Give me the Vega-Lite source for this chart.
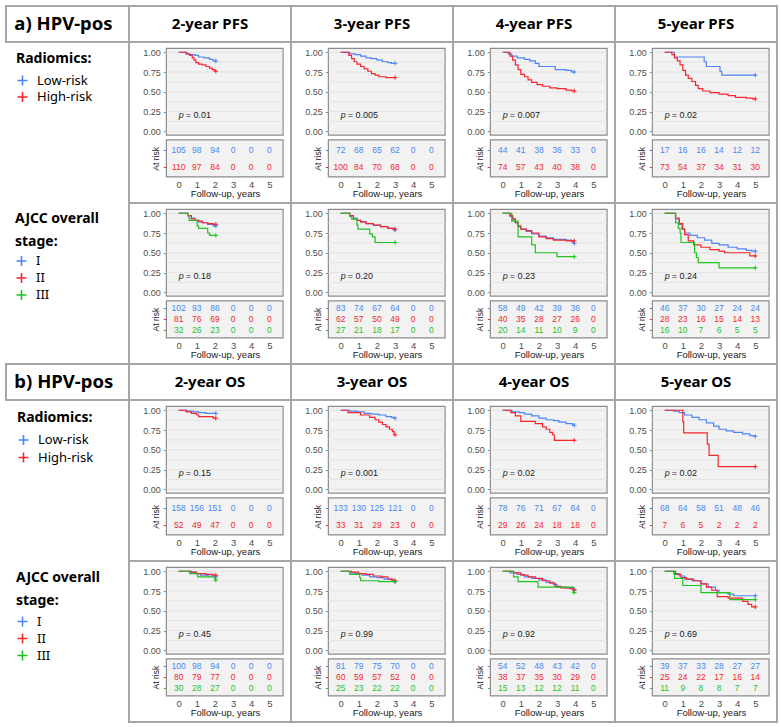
{
"$schema":"https://vega.github.io/schema/vega-lite/v6.json",
"padding":{"left":5,"top":5,"right":5,"bottom":5},
"background":"white",
"columns":5,
"spacing":0,
"bounds":"flush",
"resolve":{"scale":{"color":"independent"},"legend":{"color":"independent"}},
"datasets":{
"grid":[{"v":0},{"v":0.125},{"v":0.25},{"v":0.375},{"v":0.5},{"v":0.625},{"v":0.75},{"v":0.875},{"v":1}],
"pv":[{"p":"A1","v":"0.01"},{"p":"A2","v":"0.005"},{"p":"A3","v":"0.007"},{"p":"A4","v":"0.02"},
{"p":"B1","v":"0.18"},{"p":"B2","v":"0.20"},{"p":"B3","v":"0.23"},{"p":"B4","v":"0.24"},
{"p":"C1","v":"0.15"},{"p":"C2","v":"0.001"},{"p":"C3","v":"0.02"},{"p":"C4","v":"0.02"},
{"p":"D1","v":"0.45"},{"p":"D2","v":"0.99"},{"p":"D3","v":"0.92"},{"p":"D4","v":"0.69"}],
"curves":[
{"p":"A1","g":"Low-risk","t":[0,0.4,0.6,0.9,1.1,1.4,1.7,1.9,2.05],"s":[1,0.98,0.97,0.96,0.94,0.93,0.91,0.89,0.89]},
{"p":"A1","g":"High-risk","t":[0,0.45,0.6,0.75,0.85,0.95,1.1,1.3,1.5,1.7,1.85,1.98,2.05],"s":[1,0.98,0.96,0.93,0.9,0.87,0.85,0.84,0.82,0.8,0.78,0.76,0.76]},
{"p":"A2","g":"Low-risk","t":[0,0.5,0.8,1.1,1.4,1.7,2,2.3,2.6,2.8,3],"s":[1,0.98,0.97,0.95,0.93,0.92,0.9,0.88,0.87,0.86,0.86]},
{"p":"A2","g":"High-risk","t":[0,0.45,0.6,0.75,0.9,1.1,1.3,1.5,1.7,1.9,2.1,2.5,3],"s":[1,0.96,0.92,0.88,0.85,0.82,0.79,0.76,0.73,0.71,0.69,0.68,0.68]},
{"p":"A3","g":"Low-risk","t":[0,0.3,0.5,0.8,1.2,1.5,1.8,2,2.9,3.5,3.8,3.95],"s":[1,0.98,0.95,0.93,0.91,0.89,0.86,0.82,0.78,0.77,0.75,0.75]},
{"p":"A3","g":"High-risk","t":[0,0.4,0.55,0.7,0.85,1,1.2,1.4,1.6,1.9,2.2,2.6,3,3.5,3.8,3.95],"s":[1,0.95,0.9,0.84,0.78,0.72,0.69,0.65,0.62,0.59,0.57,0.55,0.54,0.52,0.51,0.51]},
{"p":"A4","g":"Low-risk","t":[0,0.53,2.18,2.3,3.05,3.15,5],"s":[1,0.94,0.88,0.82,0.76,0.71,0.71]},
{"p":"A4","g":"High-risk","t":[0,0.4,0.55,0.7,0.85,1,1.15,1.3,1.5,1.7,1.85,2.1,2.5,3,3.5,3.9,4.5,4.85,5],"s":[1,0.97,0.93,0.89,0.84,0.77,0.71,0.67,0.63,0.58,0.54,0.51,0.49,0.47,0.45,0.43,0.42,0.41,0.41]},
{"p":"B1","g":"I","t":[0,0.5,0.7,0.9,1.1,1.3,1.6,1.9,2.05],"s":[1,0.97,0.94,0.91,0.89,0.88,0.86,0.84,0.84]},
{"p":"B1","g":"II","t":[0,0.5,0.7,0.9,1.1,1.3,1.6,1.9,2.05],"s":[1,0.97,0.93,0.91,0.9,0.88,0.87,0.86,0.86]},
{"p":"B1","g":"III","t":[0,0.5,0.58,1.02,1.1,1.6,1.7,2.05],"s":[1,0.97,0.91,0.84,0.81,0.75,0.72,0.72]},
{"p":"B2","g":"I","t":[0,0.5,0.7,0.9,1.1,1.4,1.8,2.2,2.6,2.9,3],"s":[1,0.97,0.94,0.91,0.89,0.87,0.85,0.83,0.81,0.79,0.79]},
{"p":"B2","g":"II","t":[0,0.5,0.7,0.9,1.1,1.4,1.8,2.2,2.6,2.9,3],"s":[1,0.97,0.93,0.91,0.89,0.87,0.85,0.83,0.81,0.8,0.8]},
{"p":"B2","g":"III","t":[0,0.5,0.6,0.9,0.95,1.6,1.75,1.9,3],"s":[1,0.96,0.93,0.85,0.8,0.74,0.7,0.63,0.63]},
{"p":"B3","g":"I","t":[0,0.4,0.55,0.7,0.85,1,1.3,1.6,2,2.4,2.8,3.5,3.8,3.9,3.95],"s":[1,0.96,0.92,0.88,0.83,0.8,0.77,0.74,0.71,0.69,0.67,0.66,0.64,0.62,0.62]},
{"p":"B3","g":"II","t":[0,0.4,0.55,0.7,0.85,1,1.3,1.6,2,2.4,2.8,3.5,3.95],"s":[1,0.97,0.93,0.88,0.84,0.8,0.78,0.75,0.7,0.68,0.66,0.65,0.65]},
{"p":"B3","g":"III","t":[0,0.5,0.85,1.6,1.8,3,3.95],"s":[1,0.9,0.7,0.6,0.5,0.45,0.45]},
{"p":"B4","g":"I","t":[0,0.6,0.8,0.95,1.1,1.4,1.8,2.2,2.6,3,3.5,4,4.5,4.8,5],"s":[1,0.93,0.86,0.8,0.75,0.72,0.69,0.66,0.62,0.6,0.57,0.55,0.53,0.52,0.52]},
{"p":"B4","g":"II","t":[0,0.6,0.8,1,1.1,1.3,1.6,2,2.5,3,3.3,4.7,5],"s":[1,0.94,0.87,0.8,0.73,0.65,0.6,0.57,0.54,0.52,0.5,0.46,0.46]},
{"p":"B4","g":"III","t":[0,0.6,0.75,0.85,0.9,1.65,1.75,1.85,3,5],"s":[1,0.88,0.81,0.75,0.63,0.5,0.44,0.375,0.31,0.31]},
{"p":"C1","g":"Low-risk","t":[0,0.5,0.8,1.1,1.5,2.05],"s":[1,0.99,0.98,0.97,0.96,0.96]},
{"p":"C1","g":"High-risk","t":[0,0.4,0.7,1,1.1,1.9,2.05],"s":[1,0.98,0.96,0.94,0.92,0.9,0.9]},
{"p":"C2","g":"Low-risk","t":[0,0.5,0.9,1.3,1.7,2.1,2.5,2.8,2.95,3],"s":[1,0.99,0.98,0.96,0.95,0.94,0.92,0.91,0.9,0.9]},
{"p":"C2","g":"High-risk","t":[0,0.4,1.1,1.6,1.9,2.1,2.3,2.5,2.7,2.85,2.95,3],"s":[1,0.97,0.94,0.91,0.88,0.85,0.82,0.79,0.76,0.73,0.69,0.69]},
{"p":"C3","g":"Low-risk","t":[0,0.5,0.9,1.2,1.6,2,2.4,2.8,3.1,3.5,3.85,3.95],"s":[1,0.98,0.97,0.95,0.93,0.9,0.88,0.87,0.85,0.83,0.81,0.81]},
{"p":"C3","g":"High-risk","t":[0,0.45,0.7,1,1.8,2.2,2.4,2.6,2.75,2.85,3.95],"s":[1,0.97,0.93,0.86,0.83,0.79,0.76,0.72,0.69,0.62,0.62]},
{"p":"C4","g":"Low-risk","t":[0,0.5,0.8,1.1,1.5,1.9,2.3,2.7,3,3.4,3.8,4.3,4.7,4.9,5],"s":[1,0.99,0.97,0.94,0.91,0.88,0.84,0.8,0.76,0.74,0.72,0.7,0.68,0.67,0.67]},
{"p":"C4","g":"High-risk","t":[0,1,1.05,2.35,2.45,2.95,5],"s":[1,0.857,0.714,0.571,0.428,0.286,0.286]},
{"p":"D1","g":"I","t":[0,0.6,0.9,1.2,1.6,1.95,2.05],"s":[1,0.99,0.97,0.95,0.94,0.93,0.93]},
{"p":"D1","g":"II","t":[0,0.7,1,1.5,1.9,2.05],"s":[1,0.99,0.97,0.96,0.95,0.95]},
{"p":"D1","g":"III","t":[0,0.6,1.05,2,2.05],"s":[1,0.97,0.93,0.89,0.89]},
{"p":"D2","g":"I","t":[0,0.5,0.8,1.2,1.6,2,2.4,2.8,2.95,3],"s":[1,0.98,0.97,0.95,0.93,0.92,0.9,0.88,0.87,0.87]},
{"p":"D2","g":"II","t":[0,0.6,1,1.4,1.8,2.2,2.6,2.9,3],"s":[1,0.99,0.97,0.96,0.94,0.93,0.9,0.88,0.88]},
{"p":"D2","g":"III","t":[0,0.5,1.05,1.1,2.1,3],"s":[1,0.96,0.92,0.88,0.87,0.87]},
{"p":"D3","g":"I","t":[0,0.4,0.8,1.2,1.6,2,2.4,2.8,3,3.5,3.9,3.95],"s":[1,0.98,0.96,0.93,0.91,0.89,0.86,0.83,0.8,0.79,0.77,0.77]},
{"p":"D3","g":"II","t":[0,0.6,1,1.4,1.8,2.2,2.6,2.9,3.2,3.7,3.9,3.95],"s":[1,0.98,0.95,0.93,0.91,0.88,0.85,0.81,0.79,0.78,0.76,0.76]},
{"p":"D3","g":"III","t":[0,0.6,0.85,1.95,3.9,3.95],"s":[1,0.93,0.87,0.8,0.73,0.73]},
{"p":"D4","g":"I","t":[0,0.5,0.8,1.1,1.5,2,2.4,2.8,3,3.5,3.8,5],"s":[1,0.97,0.94,0.9,0.88,0.84,0.8,0.76,0.73,0.71,0.69,0.69]},
{"p":"D4","g":"II","t":[0,0.6,0.9,1.2,1.6,2,2.3,2.6,2.9,3.5,4.3,4.6,4.8,5],"s":[1,0.96,0.92,0.9,0.88,0.84,0.8,0.76,0.68,0.66,0.62,0.58,0.55,0.55]},
{"p":"D4","g":"III","t":[0,0.55,1,2,3.6,5],"s":[1,0.91,0.82,0.73,0.64,0.64]}
],
"risk":[
{"p":"A1","g":"Low-risk","t":[0,1,2,3,4,5],"n":[105,98,94,0,0,0]},
{"p":"A1","g":"High-risk","t":[0,1,2,3,4,5],"n":[110,97,84,0,0,0]},
{"p":"A2","g":"Low-risk","t":[0,1,2,3,4,5],"n":[72,68,65,62,0,0]},
{"p":"A2","g":"High-risk","t":[0,1,2,3,4,5],"n":[100,84,70,68,0,0]},
{"p":"A3","g":"Low-risk","t":[0,1,2,3,4,5],"n":[44,41,38,36,33,0]},
{"p":"A3","g":"High-risk","t":[0,1,2,3,4,5],"n":[74,57,43,40,38,0]},
{"p":"A4","g":"Low-risk","t":[0,1,2,3,4,5],"n":[17,16,16,14,12,12]},
{"p":"A4","g":"High-risk","t":[0,1,2,3,4,5],"n":[73,54,37,34,31,30]},
{"p":"B1","g":"I","t":[0,1,2,3,4,5],"n":[102,93,86,0,0,0]},
{"p":"B1","g":"II","t":[0,1,2,3,4,5],"n":[81,76,69,0,0,0]},
{"p":"B1","g":"III","t":[0,1,2,3,4,5],"n":[32,26,23,0,0,0]},
{"p":"B2","g":"I","t":[0,1,2,3,4,5],"n":[83,74,67,64,0,0]},
{"p":"B2","g":"II","t":[0,1,2,3,4,5],"n":[62,57,50,49,0,0]},
{"p":"B2","g":"III","t":[0,1,2,3,4,5],"n":[27,21,18,17,0,0]},
{"p":"B3","g":"I","t":[0,1,2,3,4,5],"n":[58,49,42,39,36,0]},
{"p":"B3","g":"II","t":[0,1,2,3,4,5],"n":[40,35,28,27,26,0]},
{"p":"B3","g":"III","t":[0,1,2,3,4,5],"n":[20,14,11,10,9,0]},
{"p":"B4","g":"I","t":[0,1,2,3,4,5],"n":[46,37,30,27,24,24]},
{"p":"B4","g":"II","t":[0,1,2,3,4,5],"n":[28,23,16,15,14,13]},
{"p":"B4","g":"III","t":[0,1,2,3,4,5],"n":[16,10,7,6,5,5]},
{"p":"C1","g":"Low-risk","t":[0,1,2,3,4,5],"n":[158,156,151,0,0,0]},
{"p":"C1","g":"High-risk","t":[0,1,2,3,4,5],"n":[52,49,47,0,0,0]},
{"p":"C2","g":"Low-risk","t":[0,1,2,3,4,5],"n":[133,130,125,121,0,0]},
{"p":"C2","g":"High-risk","t":[0,1,2,3,4,5],"n":[33,31,29,23,0,0]},
{"p":"C3","g":"Low-risk","t":[0,1,2,3,4,5],"n":[78,76,71,67,64,0]},
{"p":"C3","g":"High-risk","t":[0,1,2,3,4,5],"n":[29,26,24,18,18,0]},
{"p":"C4","g":"Low-risk","t":[0,1,2,3,4,5],"n":[68,64,58,51,48,46]},
{"p":"C4","g":"High-risk","t":[0,1,2,3,4,5],"n":[7,6,5,2,2,2]},
{"p":"D1","g":"I","t":[0,1,2,3,4,5],"n":[100,98,94,0,0,0]},
{"p":"D1","g":"II","t":[0,1,2,3,4,5],"n":[80,79,77,0,0,0]},
{"p":"D1","g":"III","t":[0,1,2,3,4,5],"n":[30,28,27,0,0,0]},
{"p":"D2","g":"I","t":[0,1,2,3,4,5],"n":[81,79,75,70,0,0]},
{"p":"D2","g":"II","t":[0,1,2,3,4,5],"n":[60,59,57,52,0,0]},
{"p":"D2","g":"III","t":[0,1,2,3,4,5],"n":[25,23,22,22,0,0]},
{"p":"D3","g":"I","t":[0,1,2,3,4,5],"n":[54,52,48,43,42,0]},
{"p":"D3","g":"II","t":[0,1,2,3,4,5],"n":[38,37,35,30,29,0]},
{"p":"D3","g":"III","t":[0,1,2,3,4,5],"n":[15,13,12,12,11,0]},
{"p":"D4","g":"I","t":[0,1,2,3,4,5],"n":[39,37,33,28,27,27]},
{"p":"D4","g":"II","t":[0,1,2,3,4,5],"n":[25,24,22,17,16,14]},
{"p":"D4","g":"III","t":[0,1,2,3,4,5],"n":[11,9,8,8,7,7]}
]
},
"concat":[
{"width":123,"height":36,"data":{"values":[{"h":"a) HPV-pos"}]},"mark":{"type":"text","align":"left","baseline":"middle","font":"Noto Sans","fontWeight":"bold","fontSize":18.5,"color":"#000"},"encoding":{"x":{"datum":0.068,"type":"quantitative","scale":{"domain":[0,1]},"axis":null},"y":{"datum":0.5,"type":"quantitative","scale":{"domain":[0,1]},"axis":null},"text":{"field":"h"}}},
{"width":162,"height":36,"data":{"values":[{"h":"2-year PFS"}]},"mark":{"type":"text","align":"center","baseline":"middle","font":"Noto Sans","fontWeight":"bold","fontSize":15,"color":"#000"},"encoding":{"x":{"datum":0.5,"type":"quantitative","scale":{"domain":[0,1]},"axis":null},"y":{"datum":0.5,"type":"quantitative","scale":{"domain":[0,1]},"axis":null},"text":{"field":"h"}}},
{"width":162,"height":36,"data":{"values":[{"h":"3-year PFS"}]},"mark":{"type":"text","align":"center","baseline":"middle","font":"Noto Sans","fontWeight":"bold","fontSize":15,"color":"#000"},"encoding":{"x":{"datum":0.5,"type":"quantitative","scale":{"domain":[0,1]},"axis":null},"y":{"datum":0.5,"type":"quantitative","scale":{"domain":[0,1]},"axis":null},"text":{"field":"h"}}},
{"width":162,"height":36,"data":{"values":[{"h":"4-year PFS"}]},"mark":{"type":"text","align":"center","baseline":"middle","font":"Noto Sans","fontWeight":"bold","fontSize":15,"color":"#000"},"encoding":{"x":{"datum":0.5,"type":"quantitative","scale":{"domain":[0,1]},"axis":null},"y":{"datum":0.5,"type":"quantitative","scale":{"domain":[0,1]},"axis":null},"text":{"field":"h"}}},
{"width":162,"height":36,"data":{"values":[{"h":"5-year PFS"}]},"mark":{"type":"text","align":"center","baseline":"middle","font":"Noto Sans","fontWeight":"bold","fontSize":15,"color":"#000"},"encoding":{"x":{"datum":0.5,"type":"quantitative","scale":{"domain":[0,1]},"axis":null},"y":{"datum":0.5,"type":"quantitative","scale":{"domain":[0,1]},"axis":null},"text":{"field":"h"}}},

{"width":123,"height":161,"data":{"values":[{"g":"Low-risk"},{"g":"High-risk"}]},"mark":{"type":"point","opacity":0},"encoding":{"color":{"field":"g","type":"nominal","scale":{"domain":["Low-risk","High-risk"],"range":["#4c86f2","#f7262e"]},"legend":{"orient":"top-left","title":"Radiomics:","offset":10,"padding":0,"symbolType":"M-1,0H1M0,-1V1","symbolSize":100,"symbolStrokeWidth":1.6,"symbolOpacity":1,"titlePadding":8,"rowPadding":-0.5,"labelOffset":8}}}},
{"width":162,"height":161,"resolve":{"scale":{"x":"independent","y":"independent"}},"layer":[{"layer":[
{"data":{"values":[{}]},"mark":{"type":"rect","fill":"#f2f2f2","stroke":"#8c8c8c","strokeWidth":1.2},"encoding":{"x":{"datum":-0.68,"type":"quantitative","scale":{"domain":[-2.741,6.197],"nice":false,"zero":false},"axis":null},"x2":{"datum":5.76},"y":{"datum":-0.05,"type":"quantitative","scale":{"domain":[-0.908,1.13],"nice":false,"zero":false},"axis":{"orient":"left","offset":-37.3,"values":[0,0.25,0.5,0.75,1],"format":".2f","domain":false,"grid":false,"labelOverlap":false,"tickSize":3,"labelPadding":3,"title":null}},"y2":{"datum":1.05}}},
{"data":{"values":[{}]},"mark":{"type":"rect","fill":"#f2f2f2","stroke":"#8c8c8c","strokeWidth":1.2},"encoding":{"x":{"datum":-0.68,"type":"quantitative","axis":null},"x2":{"datum":5.76},"y":{"datum":-0.11,"type":"quantitative"},"y2":{"datum":-0.578}}},
{"data":{"name":"grid"},"mark":{"type":"rule","color":"#e0e0e0","strokeWidth":0.8},"encoding":{"x":{"datum":-0.68,"type":"quantitative","axis":null},"x2":{"datum":5.76},"y":{"field":"v","type":"quantitative"}}},
{"data":{"name":"curves"},"transform":[{"filter":"datum.p=='A1'"},{"flatten":["t","s"]}],"mark":{"type":"line","interpolate":"step-after","strokeWidth":1.2},"encoding":{"x":{"field":"t","type":"quantitative","axis":null},"y":{"field":"s","type":"quantitative"},"color":{"field":"g","type":"nominal","scale":{"domain":["Low-risk","High-risk"],"range":["#4c86f2","#f7262e"]},"legend":null}}},
{"data":{"name":"curves"},"transform":[{"filter":"datum.p=='A1'"},{"flatten":["t","s"]},{"joinaggregate":[{"op":"max","field":"t","as":"m"}],"groupby":["g"]},{"filter":"datum.t==datum.m"}],"mark":{"type":"point","shape":"M0,-1V1M-1,0H1","size":20,"strokeWidth":1,"opacity":1},"encoding":{"x":{"field":"t","type":"quantitative","axis":null},"y":{"field":"s","type":"quantitative"},"color":{"field":"g","type":"nominal","legend":null}}},
{"data":{"name":"pv"},"transform":[{"filter":"datum.p=='A1'"}],"mark":{"type":"text","text":"p","fontStyle":"italic","align":"left","baseline":"middle","fontSize":9},"encoding":{"x":{"datum":0,"type":"quantitative","axis":null},"y":{"datum":0.2,"type":"quantitative"}}},
{"data":{"name":"pv"},"transform":[{"filter":"datum.p=='A1'"},{"calculate":"'= '+datum.v","as":"lab"}],"mark":{"type":"text","align":"left","baseline":"middle","fontSize":9,"dx":7},"encoding":{"x":{"datum":0,"type":"quantitative","axis":null},"y":{"datum":0.2,"type":"quantitative"},"text":{"field":"lab"}}}
]},
{"data":{"name":"risk"},"transform":[{"filter":"datum.p=='A1'"},{"flatten":["t","n"]}],"mark":{"type":"text","fontSize":8.5},"encoding":{"x":{"field":"t","type":"quantitative","scale":{"domain":[-2.741,6.197],"nice":false,"zero":false},"axis":{"orient":"bottom","offset":-26,"values":[0,1,2,3,4,5],"format":"d","domain":false,"ticks":false,"grid":false,"labelOverlap":false,"labelFlush":false,"labelFontSize":9.5,"labelPadding":2,"title":"Follow-up, years","titleX":96,"titlePadding":0}},"y":{"field":"g","type":"nominal","scale":{"type":"point","domain":["Low-risk","High-risk"],"range":[107.7,125],"padding":0},"axis":{"orient":"left","offset":-37.3,"labels":false,"domain":false,"grid":false,"tickSize":3,"tickColor":{"condition":{"test":"datum.value==='Low-risk'","value":"#4c86f2"},"value":"#f7262e"},"title":"At risk","titleFontSize":8.5,"titlePadding":2}},"text":{"field":"n"},"color":{"field":"g","type":"nominal","legend":null}}}
]},
{"width":162,"height":161,"resolve":{"scale":{"x":"independent","y":"independent"}},"layer":[{"layer":[
{"data":{"values":[{}]},"mark":{"type":"rect","fill":"#f2f2f2","stroke":"#8c8c8c","strokeWidth":1.2},"encoding":{"x":{"datum":-0.68,"type":"quantitative","scale":{"domain":[-2.741,6.197],"nice":false,"zero":false},"axis":null},"x2":{"datum":5.76},"y":{"datum":-0.05,"type":"quantitative","scale":{"domain":[-0.908,1.13],"nice":false,"zero":false},"axis":{"orient":"left","offset":-37.3,"values":[0,0.25,0.5,0.75,1],"format":".2f","domain":false,"grid":false,"labelOverlap":false,"tickSize":3,"labelPadding":3,"title":null}},"y2":{"datum":1.05}}},
{"data":{"values":[{}]},"mark":{"type":"rect","fill":"#f2f2f2","stroke":"#8c8c8c","strokeWidth":1.2},"encoding":{"x":{"datum":-0.68,"type":"quantitative","axis":null},"x2":{"datum":5.76},"y":{"datum":-0.11,"type":"quantitative"},"y2":{"datum":-0.578}}},
{"data":{"name":"grid"},"mark":{"type":"rule","color":"#e0e0e0","strokeWidth":0.8},"encoding":{"x":{"datum":-0.68,"type":"quantitative","axis":null},"x2":{"datum":5.76},"y":{"field":"v","type":"quantitative"}}},
{"data":{"name":"curves"},"transform":[{"filter":"datum.p=='A2'"},{"flatten":["t","s"]}],"mark":{"type":"line","interpolate":"step-after","strokeWidth":1.2},"encoding":{"x":{"field":"t","type":"quantitative","axis":null},"y":{"field":"s","type":"quantitative"},"color":{"field":"g","type":"nominal","scale":{"domain":["Low-risk","High-risk"],"range":["#4c86f2","#f7262e"]},"legend":null}}},
{"data":{"name":"curves"},"transform":[{"filter":"datum.p=='A2'"},{"flatten":["t","s"]},{"joinaggregate":[{"op":"max","field":"t","as":"m"}],"groupby":["g"]},{"filter":"datum.t==datum.m"}],"mark":{"type":"point","shape":"M0,-1V1M-1,0H1","size":20,"strokeWidth":1,"opacity":1},"encoding":{"x":{"field":"t","type":"quantitative","axis":null},"y":{"field":"s","type":"quantitative"},"color":{"field":"g","type":"nominal","legend":null}}},
{"data":{"name":"pv"},"transform":[{"filter":"datum.p=='A2'"}],"mark":{"type":"text","text":"p","fontStyle":"italic","align":"left","baseline":"middle","fontSize":9},"encoding":{"x":{"datum":0,"type":"quantitative","axis":null},"y":{"datum":0.2,"type":"quantitative"}}},
{"data":{"name":"pv"},"transform":[{"filter":"datum.p=='A2'"},{"calculate":"'= '+datum.v","as":"lab"}],"mark":{"type":"text","align":"left","baseline":"middle","fontSize":9,"dx":7},"encoding":{"x":{"datum":0,"type":"quantitative","axis":null},"y":{"datum":0.2,"type":"quantitative"},"text":{"field":"lab"}}}
]},
{"data":{"name":"risk"},"transform":[{"filter":"datum.p=='A2'"},{"flatten":["t","n"]}],"mark":{"type":"text","fontSize":8.5},"encoding":{"x":{"field":"t","type":"quantitative","scale":{"domain":[-2.741,6.197],"nice":false,"zero":false},"axis":{"orient":"bottom","offset":-26,"values":[0,1,2,3,4,5],"format":"d","domain":false,"ticks":false,"grid":false,"labelOverlap":false,"labelFlush":false,"labelFontSize":9.5,"labelPadding":2,"title":"Follow-up, years","titleX":96,"titlePadding":0}},"y":{"field":"g","type":"nominal","scale":{"type":"point","domain":["Low-risk","High-risk"],"range":[107.7,125],"padding":0},"axis":{"orient":"left","offset":-37.3,"labels":false,"domain":false,"grid":false,"tickSize":3,"tickColor":{"condition":{"test":"datum.value==='Low-risk'","value":"#4c86f2"},"value":"#f7262e"},"title":"At risk","titleFontSize":8.5,"titlePadding":2}},"text":{"field":"n"},"color":{"field":"g","type":"nominal","legend":null}}}
]},
{"width":162,"height":161,"resolve":{"scale":{"x":"independent","y":"independent"}},"layer":[{"layer":[
{"data":{"values":[{}]},"mark":{"type":"rect","fill":"#f2f2f2","stroke":"#8c8c8c","strokeWidth":1.2},"encoding":{"x":{"datum":-0.68,"type":"quantitative","scale":{"domain":[-2.741,6.197],"nice":false,"zero":false},"axis":null},"x2":{"datum":5.76},"y":{"datum":-0.05,"type":"quantitative","scale":{"domain":[-0.908,1.13],"nice":false,"zero":false},"axis":{"orient":"left","offset":-37.3,"values":[0,0.25,0.5,0.75,1],"format":".2f","domain":false,"grid":false,"labelOverlap":false,"tickSize":3,"labelPadding":3,"title":null}},"y2":{"datum":1.05}}},
{"data":{"values":[{}]},"mark":{"type":"rect","fill":"#f2f2f2","stroke":"#8c8c8c","strokeWidth":1.2},"encoding":{"x":{"datum":-0.68,"type":"quantitative","axis":null},"x2":{"datum":5.76},"y":{"datum":-0.11,"type":"quantitative"},"y2":{"datum":-0.578}}},
{"data":{"name":"grid"},"mark":{"type":"rule","color":"#e0e0e0","strokeWidth":0.8},"encoding":{"x":{"datum":-0.68,"type":"quantitative","axis":null},"x2":{"datum":5.76},"y":{"field":"v","type":"quantitative"}}},
{"data":{"name":"curves"},"transform":[{"filter":"datum.p=='A3'"},{"flatten":["t","s"]}],"mark":{"type":"line","interpolate":"step-after","strokeWidth":1.2},"encoding":{"x":{"field":"t","type":"quantitative","axis":null},"y":{"field":"s","type":"quantitative"},"color":{"field":"g","type":"nominal","scale":{"domain":["Low-risk","High-risk"],"range":["#4c86f2","#f7262e"]},"legend":null}}},
{"data":{"name":"curves"},"transform":[{"filter":"datum.p=='A3'"},{"flatten":["t","s"]},{"joinaggregate":[{"op":"max","field":"t","as":"m"}],"groupby":["g"]},{"filter":"datum.t==datum.m"}],"mark":{"type":"point","shape":"M0,-1V1M-1,0H1","size":20,"strokeWidth":1,"opacity":1},"encoding":{"x":{"field":"t","type":"quantitative","axis":null},"y":{"field":"s","type":"quantitative"},"color":{"field":"g","type":"nominal","legend":null}}},
{"data":{"name":"pv"},"transform":[{"filter":"datum.p=='A3'"}],"mark":{"type":"text","text":"p","fontStyle":"italic","align":"left","baseline":"middle","fontSize":9},"encoding":{"x":{"datum":0,"type":"quantitative","axis":null},"y":{"datum":0.2,"type":"quantitative"}}},
{"data":{"name":"pv"},"transform":[{"filter":"datum.p=='A3'"},{"calculate":"'= '+datum.v","as":"lab"}],"mark":{"type":"text","align":"left","baseline":"middle","fontSize":9,"dx":7},"encoding":{"x":{"datum":0,"type":"quantitative","axis":null},"y":{"datum":0.2,"type":"quantitative"},"text":{"field":"lab"}}}
]},
{"data":{"name":"risk"},"transform":[{"filter":"datum.p=='A3'"},{"flatten":["t","n"]}],"mark":{"type":"text","fontSize":8.5},"encoding":{"x":{"field":"t","type":"quantitative","scale":{"domain":[-2.741,6.197],"nice":false,"zero":false},"axis":{"orient":"bottom","offset":-26,"values":[0,1,2,3,4,5],"format":"d","domain":false,"ticks":false,"grid":false,"labelOverlap":false,"labelFlush":false,"labelFontSize":9.5,"labelPadding":2,"title":"Follow-up, years","titleX":96,"titlePadding":0}},"y":{"field":"g","type":"nominal","scale":{"type":"point","domain":["Low-risk","High-risk"],"range":[107.7,125],"padding":0},"axis":{"orient":"left","offset":-37.3,"labels":false,"domain":false,"grid":false,"tickSize":3,"tickColor":{"condition":{"test":"datum.value==='Low-risk'","value":"#4c86f2"},"value":"#f7262e"},"title":"At risk","titleFontSize":8.5,"titlePadding":2}},"text":{"field":"n"},"color":{"field":"g","type":"nominal","legend":null}}}
]},
{"width":162,"height":161,"resolve":{"scale":{"x":"independent","y":"independent"}},"layer":[{"layer":[
{"data":{"values":[{}]},"mark":{"type":"rect","fill":"#f2f2f2","stroke":"#8c8c8c","strokeWidth":1.2},"encoding":{"x":{"datum":-0.68,"type":"quantitative","scale":{"domain":[-2.741,6.197],"nice":false,"zero":false},"axis":null},"x2":{"datum":5.76},"y":{"datum":-0.05,"type":"quantitative","scale":{"domain":[-0.908,1.13],"nice":false,"zero":false},"axis":{"orient":"left","offset":-37.3,"values":[0,0.25,0.5,0.75,1],"format":".2f","domain":false,"grid":false,"labelOverlap":false,"tickSize":3,"labelPadding":3,"title":null}},"y2":{"datum":1.05}}},
{"data":{"values":[{}]},"mark":{"type":"rect","fill":"#f2f2f2","stroke":"#8c8c8c","strokeWidth":1.2},"encoding":{"x":{"datum":-0.68,"type":"quantitative","axis":null},"x2":{"datum":5.76},"y":{"datum":-0.11,"type":"quantitative"},"y2":{"datum":-0.578}}},
{"data":{"name":"grid"},"mark":{"type":"rule","color":"#e0e0e0","strokeWidth":0.8},"encoding":{"x":{"datum":-0.68,"type":"quantitative","axis":null},"x2":{"datum":5.76},"y":{"field":"v","type":"quantitative"}}},
{"data":{"name":"curves"},"transform":[{"filter":"datum.p=='A4'"},{"flatten":["t","s"]}],"mark":{"type":"line","interpolate":"step-after","strokeWidth":1.2},"encoding":{"x":{"field":"t","type":"quantitative","axis":null},"y":{"field":"s","type":"quantitative"},"color":{"field":"g","type":"nominal","scale":{"domain":["Low-risk","High-risk"],"range":["#4c86f2","#f7262e"]},"legend":null}}},
{"data":{"name":"curves"},"transform":[{"filter":"datum.p=='A4'"},{"flatten":["t","s"]},{"joinaggregate":[{"op":"max","field":"t","as":"m"}],"groupby":["g"]},{"filter":"datum.t==datum.m"}],"mark":{"type":"point","shape":"M0,-1V1M-1,0H1","size":20,"strokeWidth":1,"opacity":1},"encoding":{"x":{"field":"t","type":"quantitative","axis":null},"y":{"field":"s","type":"quantitative"},"color":{"field":"g","type":"nominal","legend":null}}},
{"data":{"name":"pv"},"transform":[{"filter":"datum.p=='A4'"}],"mark":{"type":"text","text":"p","fontStyle":"italic","align":"left","baseline":"middle","fontSize":9},"encoding":{"x":{"datum":0,"type":"quantitative","axis":null},"y":{"datum":0.2,"type":"quantitative"}}},
{"data":{"name":"pv"},"transform":[{"filter":"datum.p=='A4'"},{"calculate":"'= '+datum.v","as":"lab"}],"mark":{"type":"text","align":"left","baseline":"middle","fontSize":9,"dx":7},"encoding":{"x":{"datum":0,"type":"quantitative","axis":null},"y":{"datum":0.2,"type":"quantitative"},"text":{"field":"lab"}}}
]},
{"data":{"name":"risk"},"transform":[{"filter":"datum.p=='A4'"},{"flatten":["t","n"]}],"mark":{"type":"text","fontSize":8.5},"encoding":{"x":{"field":"t","type":"quantitative","scale":{"domain":[-2.741,6.197],"nice":false,"zero":false},"axis":{"orient":"bottom","offset":-26,"values":[0,1,2,3,4,5],"format":"d","domain":false,"ticks":false,"grid":false,"labelOverlap":false,"labelFlush":false,"labelFontSize":9.5,"labelPadding":2,"title":"Follow-up, years","titleX":96,"titlePadding":0}},"y":{"field":"g","type":"nominal","scale":{"type":"point","domain":["Low-risk","High-risk"],"range":[107.7,125],"padding":0},"axis":{"orient":"left","offset":-37.3,"labels":false,"domain":false,"grid":false,"tickSize":3,"tickColor":{"condition":{"test":"datum.value==='Low-risk'","value":"#4c86f2"},"value":"#f7262e"},"title":"At risk","titleFontSize":8.5,"titlePadding":2}},"text":{"field":"n"},"color":{"field":"g","type":"nominal","legend":null}}}
]},

{"width":123,"height":161,"data":{"values":[{"g":"I"},{"g":"II"},{"g":"III"}]},"mark":{"type":"point","opacity":0},"encoding":{"color":{"field":"g","type":"nominal","scale":{"domain":["I","II","III"],"range":["#4c86f2","#f7262e","#1fc41f"]},"legend":{"orient":"top-left","title":["AJCC overall","stage:"],"titleLineHeight":22.5,"offset":9,"padding":0,"symbolType":"M-1,0H1M0,-1V1","symbolSize":100,"symbolStrokeWidth":1.6,"symbolOpacity":1,"titlePadding":6,"rowPadding":0,"labelOffset":8}}}},
{"width":162,"height":161,"resolve":{"scale":{"x":"independent","y":"independent"}},"layer":[{"layer":[
{"data":{"values":[{}]},"mark":{"type":"rect","fill":"#f2f2f2","stroke":"#8c8c8c","strokeWidth":1.2},"encoding":{"x":{"datum":-0.68,"type":"quantitative","scale":{"domain":[-2.741,6.197],"nice":false,"zero":false},"axis":null},"x2":{"datum":5.76},"y":{"datum":-0.05,"type":"quantitative","scale":{"domain":[-0.908,1.13],"nice":false,"zero":false},"axis":{"orient":"left","offset":-37.3,"values":[0,0.25,0.5,0.75,1],"format":".2f","domain":false,"grid":false,"labelOverlap":false,"tickSize":3,"labelPadding":3,"title":null}},"y2":{"datum":1.05}}},
{"data":{"values":[{}]},"mark":{"type":"rect","fill":"#f2f2f2","stroke":"#8c8c8c","strokeWidth":1.2},"encoding":{"x":{"datum":-0.68,"type":"quantitative","axis":null},"x2":{"datum":5.76},"y":{"datum":-0.11,"type":"quantitative"},"y2":{"datum":-0.578}}},
{"data":{"name":"grid"},"mark":{"type":"rule","color":"#e0e0e0","strokeWidth":0.8},"encoding":{"x":{"datum":-0.68,"type":"quantitative","axis":null},"x2":{"datum":5.76},"y":{"field":"v","type":"quantitative"}}},
{"data":{"name":"curves"},"transform":[{"filter":"datum.p=='B1'"},{"flatten":["t","s"]}],"mark":{"type":"line","interpolate":"step-after","strokeWidth":1.2},"encoding":{"x":{"field":"t","type":"quantitative","axis":null},"y":{"field":"s","type":"quantitative"},"color":{"field":"g","type":"nominal","scale":{"domain":["I","II","III"],"range":["#4c86f2","#f7262e","#1fc41f"]},"legend":null}}},
{"data":{"name":"curves"},"transform":[{"filter":"datum.p=='B1'"},{"flatten":["t","s"]},{"joinaggregate":[{"op":"max","field":"t","as":"m"}],"groupby":["g"]},{"filter":"datum.t==datum.m"}],"mark":{"type":"point","shape":"M0,-1V1M-1,0H1","size":20,"strokeWidth":1,"opacity":1},"encoding":{"x":{"field":"t","type":"quantitative","axis":null},"y":{"field":"s","type":"quantitative"},"color":{"field":"g","type":"nominal","legend":null}}},
{"data":{"name":"pv"},"transform":[{"filter":"datum.p=='B1'"}],"mark":{"type":"text","text":"p","fontStyle":"italic","align":"left","baseline":"middle","fontSize":9},"encoding":{"x":{"datum":0,"type":"quantitative","axis":null},"y":{"datum":0.2,"type":"quantitative"}}},
{"data":{"name":"pv"},"transform":[{"filter":"datum.p=='B1'"},{"calculate":"'= '+datum.v","as":"lab"}],"mark":{"type":"text","align":"left","baseline":"middle","fontSize":9,"dx":7},"encoding":{"x":{"datum":0,"type":"quantitative","axis":null},"y":{"datum":0.2,"type":"quantitative"},"text":{"field":"lab"}}}
]},
{"data":{"name":"risk"},"transform":[{"filter":"datum.p=='B1'"},{"flatten":["t","n"]}],"mark":{"type":"text","fontSize":8.5},"encoding":{"x":{"field":"t","type":"quantitative","scale":{"domain":[-2.741,6.197],"nice":false,"zero":false},"axis":{"orient":"bottom","offset":-26,"values":[0,1,2,3,4,5],"format":"d","domain":false,"ticks":false,"grid":false,"labelOverlap":false,"labelFlush":false,"labelFontSize":9.5,"labelPadding":2,"title":"Follow-up, years","titleX":96,"titlePadding":0}},"y":{"field":"g","type":"nominal","scale":{"type":"point","domain":["I","II","III"],"range":[105.3,127],"padding":0},"axis":{"orient":"left","offset":-37.3,"labels":false,"domain":false,"grid":false,"tickSize":3,"tickColor":{"condition":[{"test":"datum.value==='I'","value":"#4c86f2"},{"test":"datum.value==='II'","value":"#f7262e"}],"value":"#1fc41f"},"title":"At risk","titleFontSize":8.5,"titlePadding":2}},"text":{"field":"n"},"color":{"field":"g","type":"nominal","legend":null}}}
]},
{"width":162,"height":161,"resolve":{"scale":{"x":"independent","y":"independent"}},"layer":[{"layer":[
{"data":{"values":[{}]},"mark":{"type":"rect","fill":"#f2f2f2","stroke":"#8c8c8c","strokeWidth":1.2},"encoding":{"x":{"datum":-0.68,"type":"quantitative","scale":{"domain":[-2.741,6.197],"nice":false,"zero":false},"axis":null},"x2":{"datum":5.76},"y":{"datum":-0.05,"type":"quantitative","scale":{"domain":[-0.908,1.13],"nice":false,"zero":false},"axis":{"orient":"left","offset":-37.3,"values":[0,0.25,0.5,0.75,1],"format":".2f","domain":false,"grid":false,"labelOverlap":false,"tickSize":3,"labelPadding":3,"title":null}},"y2":{"datum":1.05}}},
{"data":{"values":[{}]},"mark":{"type":"rect","fill":"#f2f2f2","stroke":"#8c8c8c","strokeWidth":1.2},"encoding":{"x":{"datum":-0.68,"type":"quantitative","axis":null},"x2":{"datum":5.76},"y":{"datum":-0.11,"type":"quantitative"},"y2":{"datum":-0.578}}},
{"data":{"name":"grid"},"mark":{"type":"rule","color":"#e0e0e0","strokeWidth":0.8},"encoding":{"x":{"datum":-0.68,"type":"quantitative","axis":null},"x2":{"datum":5.76},"y":{"field":"v","type":"quantitative"}}},
{"data":{"name":"curves"},"transform":[{"filter":"datum.p=='B2'"},{"flatten":["t","s"]}],"mark":{"type":"line","interpolate":"step-after","strokeWidth":1.2},"encoding":{"x":{"field":"t","type":"quantitative","axis":null},"y":{"field":"s","type":"quantitative"},"color":{"field":"g","type":"nominal","scale":{"domain":["I","II","III"],"range":["#4c86f2","#f7262e","#1fc41f"]},"legend":null}}},
{"data":{"name":"curves"},"transform":[{"filter":"datum.p=='B2'"},{"flatten":["t","s"]},{"joinaggregate":[{"op":"max","field":"t","as":"m"}],"groupby":["g"]},{"filter":"datum.t==datum.m"}],"mark":{"type":"point","shape":"M0,-1V1M-1,0H1","size":20,"strokeWidth":1,"opacity":1},"encoding":{"x":{"field":"t","type":"quantitative","axis":null},"y":{"field":"s","type":"quantitative"},"color":{"field":"g","type":"nominal","legend":null}}},
{"data":{"name":"pv"},"transform":[{"filter":"datum.p=='B2'"}],"mark":{"type":"text","text":"p","fontStyle":"italic","align":"left","baseline":"middle","fontSize":9},"encoding":{"x":{"datum":0,"type":"quantitative","axis":null},"y":{"datum":0.2,"type":"quantitative"}}},
{"data":{"name":"pv"},"transform":[{"filter":"datum.p=='B2'"},{"calculate":"'= '+datum.v","as":"lab"}],"mark":{"type":"text","align":"left","baseline":"middle","fontSize":9,"dx":7},"encoding":{"x":{"datum":0,"type":"quantitative","axis":null},"y":{"datum":0.2,"type":"quantitative"},"text":{"field":"lab"}}}
]},
{"data":{"name":"risk"},"transform":[{"filter":"datum.p=='B2'"},{"flatten":["t","n"]}],"mark":{"type":"text","fontSize":8.5},"encoding":{"x":{"field":"t","type":"quantitative","scale":{"domain":[-2.741,6.197],"nice":false,"zero":false},"axis":{"orient":"bottom","offset":-26,"values":[0,1,2,3,4,5],"format":"d","domain":false,"ticks":false,"grid":false,"labelOverlap":false,"labelFlush":false,"labelFontSize":9.5,"labelPadding":2,"title":"Follow-up, years","titleX":96,"titlePadding":0}},"y":{"field":"g","type":"nominal","scale":{"type":"point","domain":["I","II","III"],"range":[105.3,127],"padding":0},"axis":{"orient":"left","offset":-37.3,"labels":false,"domain":false,"grid":false,"tickSize":3,"tickColor":{"condition":[{"test":"datum.value==='I'","value":"#4c86f2"},{"test":"datum.value==='II'","value":"#f7262e"}],"value":"#1fc41f"},"title":"At risk","titleFontSize":8.5,"titlePadding":2}},"text":{"field":"n"},"color":{"field":"g","type":"nominal","legend":null}}}
]},
{"width":162,"height":161,"resolve":{"scale":{"x":"independent","y":"independent"}},"layer":[{"layer":[
{"data":{"values":[{}]},"mark":{"type":"rect","fill":"#f2f2f2","stroke":"#8c8c8c","strokeWidth":1.2},"encoding":{"x":{"datum":-0.68,"type":"quantitative","scale":{"domain":[-2.741,6.197],"nice":false,"zero":false},"axis":null},"x2":{"datum":5.76},"y":{"datum":-0.05,"type":"quantitative","scale":{"domain":[-0.908,1.13],"nice":false,"zero":false},"axis":{"orient":"left","offset":-37.3,"values":[0,0.25,0.5,0.75,1],"format":".2f","domain":false,"grid":false,"labelOverlap":false,"tickSize":3,"labelPadding":3,"title":null}},"y2":{"datum":1.05}}},
{"data":{"values":[{}]},"mark":{"type":"rect","fill":"#f2f2f2","stroke":"#8c8c8c","strokeWidth":1.2},"encoding":{"x":{"datum":-0.68,"type":"quantitative","axis":null},"x2":{"datum":5.76},"y":{"datum":-0.11,"type":"quantitative"},"y2":{"datum":-0.578}}},
{"data":{"name":"grid"},"mark":{"type":"rule","color":"#e0e0e0","strokeWidth":0.8},"encoding":{"x":{"datum":-0.68,"type":"quantitative","axis":null},"x2":{"datum":5.76},"y":{"field":"v","type":"quantitative"}}},
{"data":{"name":"curves"},"transform":[{"filter":"datum.p=='B3'"},{"flatten":["t","s"]}],"mark":{"type":"line","interpolate":"step-after","strokeWidth":1.2},"encoding":{"x":{"field":"t","type":"quantitative","axis":null},"y":{"field":"s","type":"quantitative"},"color":{"field":"g","type":"nominal","scale":{"domain":["I","II","III"],"range":["#4c86f2","#f7262e","#1fc41f"]},"legend":null}}},
{"data":{"name":"curves"},"transform":[{"filter":"datum.p=='B3'"},{"flatten":["t","s"]},{"joinaggregate":[{"op":"max","field":"t","as":"m"}],"groupby":["g"]},{"filter":"datum.t==datum.m"}],"mark":{"type":"point","shape":"M0,-1V1M-1,0H1","size":20,"strokeWidth":1,"opacity":1},"encoding":{"x":{"field":"t","type":"quantitative","axis":null},"y":{"field":"s","type":"quantitative"},"color":{"field":"g","type":"nominal","legend":null}}},
{"data":{"name":"pv"},"transform":[{"filter":"datum.p=='B3'"}],"mark":{"type":"text","text":"p","fontStyle":"italic","align":"left","baseline":"middle","fontSize":9},"encoding":{"x":{"datum":0,"type":"quantitative","axis":null},"y":{"datum":0.2,"type":"quantitative"}}},
{"data":{"name":"pv"},"transform":[{"filter":"datum.p=='B3'"},{"calculate":"'= '+datum.v","as":"lab"}],"mark":{"type":"text","align":"left","baseline":"middle","fontSize":9,"dx":7},"encoding":{"x":{"datum":0,"type":"quantitative","axis":null},"y":{"datum":0.2,"type":"quantitative"},"text":{"field":"lab"}}}
]},
{"data":{"name":"risk"},"transform":[{"filter":"datum.p=='B3'"},{"flatten":["t","n"]}],"mark":{"type":"text","fontSize":8.5},"encoding":{"x":{"field":"t","type":"quantitative","scale":{"domain":[-2.741,6.197],"nice":false,"zero":false},"axis":{"orient":"bottom","offset":-26,"values":[0,1,2,3,4,5],"format":"d","domain":false,"ticks":false,"grid":false,"labelOverlap":false,"labelFlush":false,"labelFontSize":9.5,"labelPadding":2,"title":"Follow-up, years","titleX":96,"titlePadding":0}},"y":{"field":"g","type":"nominal","scale":{"type":"point","domain":["I","II","III"],"range":[105.3,127],"padding":0},"axis":{"orient":"left","offset":-37.3,"labels":false,"domain":false,"grid":false,"tickSize":3,"tickColor":{"condition":[{"test":"datum.value==='I'","value":"#4c86f2"},{"test":"datum.value==='II'","value":"#f7262e"}],"value":"#1fc41f"},"title":"At risk","titleFontSize":8.5,"titlePadding":2}},"text":{"field":"n"},"color":{"field":"g","type":"nominal","legend":null}}}
]},
{"width":162,"height":161,"resolve":{"scale":{"x":"independent","y":"independent"}},"layer":[{"layer":[
{"data":{"values":[{}]},"mark":{"type":"rect","fill":"#f2f2f2","stroke":"#8c8c8c","strokeWidth":1.2},"encoding":{"x":{"datum":-0.68,"type":"quantitative","scale":{"domain":[-2.741,6.197],"nice":false,"zero":false},"axis":null},"x2":{"datum":5.76},"y":{"datum":-0.05,"type":"quantitative","scale":{"domain":[-0.908,1.13],"nice":false,"zero":false},"axis":{"orient":"left","offset":-37.3,"values":[0,0.25,0.5,0.75,1],"format":".2f","domain":false,"grid":false,"labelOverlap":false,"tickSize":3,"labelPadding":3,"title":null}},"y2":{"datum":1.05}}},
{"data":{"values":[{}]},"mark":{"type":"rect","fill":"#f2f2f2","stroke":"#8c8c8c","strokeWidth":1.2},"encoding":{"x":{"datum":-0.68,"type":"quantitative","axis":null},"x2":{"datum":5.76},"y":{"datum":-0.11,"type":"quantitative"},"y2":{"datum":-0.578}}},
{"data":{"name":"grid"},"mark":{"type":"rule","color":"#e0e0e0","strokeWidth":0.8},"encoding":{"x":{"datum":-0.68,"type":"quantitative","axis":null},"x2":{"datum":5.76},"y":{"field":"v","type":"quantitative"}}},
{"data":{"name":"curves"},"transform":[{"filter":"datum.p=='B4'"},{"flatten":["t","s"]}],"mark":{"type":"line","interpolate":"step-after","strokeWidth":1.2},"encoding":{"x":{"field":"t","type":"quantitative","axis":null},"y":{"field":"s","type":"quantitative"},"color":{"field":"g","type":"nominal","scale":{"domain":["I","II","III"],"range":["#4c86f2","#f7262e","#1fc41f"]},"legend":null}}},
{"data":{"name":"curves"},"transform":[{"filter":"datum.p=='B4'"},{"flatten":["t","s"]},{"joinaggregate":[{"op":"max","field":"t","as":"m"}],"groupby":["g"]},{"filter":"datum.t==datum.m"}],"mark":{"type":"point","shape":"M0,-1V1M-1,0H1","size":20,"strokeWidth":1,"opacity":1},"encoding":{"x":{"field":"t","type":"quantitative","axis":null},"y":{"field":"s","type":"quantitative"},"color":{"field":"g","type":"nominal","legend":null}}},
{"data":{"name":"pv"},"transform":[{"filter":"datum.p=='B4'"}],"mark":{"type":"text","text":"p","fontStyle":"italic","align":"left","baseline":"middle","fontSize":9},"encoding":{"x":{"datum":0,"type":"quantitative","axis":null},"y":{"datum":0.2,"type":"quantitative"}}},
{"data":{"name":"pv"},"transform":[{"filter":"datum.p=='B4'"},{"calculate":"'= '+datum.v","as":"lab"}],"mark":{"type":"text","align":"left","baseline":"middle","fontSize":9,"dx":7},"encoding":{"x":{"datum":0,"type":"quantitative","axis":null},"y":{"datum":0.2,"type":"quantitative"},"text":{"field":"lab"}}}
]},
{"data":{"name":"risk"},"transform":[{"filter":"datum.p=='B4'"},{"flatten":["t","n"]}],"mark":{"type":"text","fontSize":8.5},"encoding":{"x":{"field":"t","type":"quantitative","scale":{"domain":[-2.741,6.197],"nice":false,"zero":false},"axis":{"orient":"bottom","offset":-26,"values":[0,1,2,3,4,5],"format":"d","domain":false,"ticks":false,"grid":false,"labelOverlap":false,"labelFlush":false,"labelFontSize":9.5,"labelPadding":2,"title":"Follow-up, years","titleX":96,"titlePadding":0}},"y":{"field":"g","type":"nominal","scale":{"type":"point","domain":["I","II","III"],"range":[105.3,127],"padding":0},"axis":{"orient":"left","offset":-37.3,"labels":false,"domain":false,"grid":false,"tickSize":3,"tickColor":{"condition":[{"test":"datum.value==='I'","value":"#4c86f2"},{"test":"datum.value==='II'","value":"#f7262e"}],"value":"#1fc41f"},"title":"At risk","titleFontSize":8.5,"titlePadding":2}},"text":{"field":"n"},"color":{"field":"g","type":"nominal","legend":null}}}
]},

{"width":123,"height":36,"data":{"values":[{"h":"b) HPV-pos"}]},"mark":{"type":"text","align":"left","baseline":"middle","font":"Noto Sans","fontWeight":"bold","fontSize":18.5,"color":"#000"},"encoding":{"x":{"datum":0.068,"type":"quantitative","scale":{"domain":[0,1]},"axis":null},"y":{"datum":0.5,"type":"quantitative","scale":{"domain":[0,1]},"axis":null},"text":{"field":"h"}}},
{"width":162,"height":36,"data":{"values":[{"h":"2-year OS"}]},"mark":{"type":"text","align":"center","baseline":"middle","font":"Noto Sans","fontWeight":"bold","fontSize":15,"color":"#000"},"encoding":{"x":{"datum":0.5,"type":"quantitative","scale":{"domain":[0,1]},"axis":null},"y":{"datum":0.5,"type":"quantitative","scale":{"domain":[0,1]},"axis":null},"text":{"field":"h"}}},
{"width":162,"height":36,"data":{"values":[{"h":"3-year OS"}]},"mark":{"type":"text","align":"center","baseline":"middle","font":"Noto Sans","fontWeight":"bold","fontSize":15,"color":"#000"},"encoding":{"x":{"datum":0.5,"type":"quantitative","scale":{"domain":[0,1]},"axis":null},"y":{"datum":0.5,"type":"quantitative","scale":{"domain":[0,1]},"axis":null},"text":{"field":"h"}}},
{"width":162,"height":36,"data":{"values":[{"h":"4-year OS"}]},"mark":{"type":"text","align":"center","baseline":"middle","font":"Noto Sans","fontWeight":"bold","fontSize":15,"color":"#000"},"encoding":{"x":{"datum":0.5,"type":"quantitative","scale":{"domain":[0,1]},"axis":null},"y":{"datum":0.5,"type":"quantitative","scale":{"domain":[0,1]},"axis":null},"text":{"field":"h"}}},
{"width":162,"height":36,"data":{"values":[{"h":"5-year OS"}]},"mark":{"type":"text","align":"center","baseline":"middle","font":"Noto Sans","fontWeight":"bold","fontSize":15,"color":"#000"},"encoding":{"x":{"datum":0.5,"type":"quantitative","scale":{"domain":[0,1]},"axis":null},"y":{"datum":0.5,"type":"quantitative","scale":{"domain":[0,1]},"axis":null},"text":{"field":"h"}}},

{"width":123,"height":161,"data":{"values":[{"g":"Low-risk"},{"g":"High-risk"}]},"mark":{"type":"point","opacity":0},"encoding":{"color":{"field":"g","type":"nominal","scale":{"domain":["Low-risk","High-risk"],"range":["#4c86f2","#f7262e"]},"legend":{"orient":"top-left","title":"Radiomics:","offset":11,"padding":0,"symbolType":"M-1,0H1M0,-1V1","symbolSize":100,"symbolStrokeWidth":1.6,"symbolOpacity":1,"titlePadding":8.5,"rowPadding":0.5,"labelOffset":8}}}},
{"width":162,"height":161,"resolve":{"scale":{"x":"independent","y":"independent"}},"layer":[{"layer":[
{"data":{"values":[{}]},"mark":{"type":"rect","fill":"#f2f2f2","stroke":"#8c8c8c","strokeWidth":1.2},"encoding":{"x":{"datum":-0.68,"type":"quantitative","scale":{"domain":[-2.741,6.197],"nice":false,"zero":false},"axis":null},"x2":{"datum":5.76},"y":{"datum":-0.05,"type":"quantitative","scale":{"domain":[-0.908,1.13],"nice":false,"zero":false},"axis":{"orient":"left","offset":-37.3,"values":[0,0.25,0.5,0.75,1],"format":".2f","domain":false,"grid":false,"labelOverlap":false,"tickSize":3,"labelPadding":3,"title":null}},"y2":{"datum":1.05}}},
{"data":{"values":[{}]},"mark":{"type":"rect","fill":"#f2f2f2","stroke":"#8c8c8c","strokeWidth":1.2},"encoding":{"x":{"datum":-0.68,"type":"quantitative","axis":null},"x2":{"datum":5.76},"y":{"datum":-0.11,"type":"quantitative"},"y2":{"datum":-0.578}}},
{"data":{"name":"grid"},"mark":{"type":"rule","color":"#e0e0e0","strokeWidth":0.8},"encoding":{"x":{"datum":-0.68,"type":"quantitative","axis":null},"x2":{"datum":5.76},"y":{"field":"v","type":"quantitative"}}},
{"data":{"name":"curves"},"transform":[{"filter":"datum.p=='C1'"},{"flatten":["t","s"]}],"mark":{"type":"line","interpolate":"step-after","strokeWidth":1.2},"encoding":{"x":{"field":"t","type":"quantitative","axis":null},"y":{"field":"s","type":"quantitative"},"color":{"field":"g","type":"nominal","scale":{"domain":["Low-risk","High-risk"],"range":["#4c86f2","#f7262e"]},"legend":null}}},
{"data":{"name":"curves"},"transform":[{"filter":"datum.p=='C1'"},{"flatten":["t","s"]},{"joinaggregate":[{"op":"max","field":"t","as":"m"}],"groupby":["g"]},{"filter":"datum.t==datum.m"}],"mark":{"type":"point","shape":"M0,-1V1M-1,0H1","size":20,"strokeWidth":1,"opacity":1},"encoding":{"x":{"field":"t","type":"quantitative","axis":null},"y":{"field":"s","type":"quantitative"},"color":{"field":"g","type":"nominal","legend":null}}},
{"data":{"name":"pv"},"transform":[{"filter":"datum.p=='C1'"}],"mark":{"type":"text","text":"p","fontStyle":"italic","align":"left","baseline":"middle","fontSize":9},"encoding":{"x":{"datum":0,"type":"quantitative","axis":null},"y":{"datum":0.2,"type":"quantitative"}}},
{"data":{"name":"pv"},"transform":[{"filter":"datum.p=='C1'"},{"calculate":"'= '+datum.v","as":"lab"}],"mark":{"type":"text","align":"left","baseline":"middle","fontSize":9,"dx":7},"encoding":{"x":{"datum":0,"type":"quantitative","axis":null},"y":{"datum":0.2,"type":"quantitative"},"text":{"field":"lab"}}}
]},
{"data":{"name":"risk"},"transform":[{"filter":"datum.p=='C1'"},{"flatten":["t","n"]}],"mark":{"type":"text","fontSize":8.5},"encoding":{"x":{"field":"t","type":"quantitative","scale":{"domain":[-2.741,6.197],"nice":false,"zero":false},"axis":{"orient":"bottom","offset":-26,"values":[0,1,2,3,4,5],"format":"d","domain":false,"ticks":false,"grid":false,"labelOverlap":false,"labelFlush":false,"labelFontSize":9.5,"labelPadding":2,"title":"Follow-up, years","titleX":96,"titlePadding":0}},"y":{"field":"g","type":"nominal","scale":{"type":"point","domain":["Low-risk","High-risk"],"range":[107.7,125],"padding":0},"axis":{"orient":"left","offset":-37.3,"labels":false,"domain":false,"grid":false,"tickSize":3,"tickColor":{"condition":{"test":"datum.value==='Low-risk'","value":"#4c86f2"},"value":"#f7262e"},"title":"At risk","titleFontSize":8.5,"titlePadding":2}},"text":{"field":"n"},"color":{"field":"g","type":"nominal","legend":null}}}
]},
{"width":162,"height":161,"resolve":{"scale":{"x":"independent","y":"independent"}},"layer":[{"layer":[
{"data":{"values":[{}]},"mark":{"type":"rect","fill":"#f2f2f2","stroke":"#8c8c8c","strokeWidth":1.2},"encoding":{"x":{"datum":-0.68,"type":"quantitative","scale":{"domain":[-2.741,6.197],"nice":false,"zero":false},"axis":null},"x2":{"datum":5.76},"y":{"datum":-0.05,"type":"quantitative","scale":{"domain":[-0.908,1.13],"nice":false,"zero":false},"axis":{"orient":"left","offset":-37.3,"values":[0,0.25,0.5,0.75,1],"format":".2f","domain":false,"grid":false,"labelOverlap":false,"tickSize":3,"labelPadding":3,"title":null}},"y2":{"datum":1.05}}},
{"data":{"values":[{}]},"mark":{"type":"rect","fill":"#f2f2f2","stroke":"#8c8c8c","strokeWidth":1.2},"encoding":{"x":{"datum":-0.68,"type":"quantitative","axis":null},"x2":{"datum":5.76},"y":{"datum":-0.11,"type":"quantitative"},"y2":{"datum":-0.578}}},
{"data":{"name":"grid"},"mark":{"type":"rule","color":"#e0e0e0","strokeWidth":0.8},"encoding":{"x":{"datum":-0.68,"type":"quantitative","axis":null},"x2":{"datum":5.76},"y":{"field":"v","type":"quantitative"}}},
{"data":{"name":"curves"},"transform":[{"filter":"datum.p=='C2'"},{"flatten":["t","s"]}],"mark":{"type":"line","interpolate":"step-after","strokeWidth":1.2},"encoding":{"x":{"field":"t","type":"quantitative","axis":null},"y":{"field":"s","type":"quantitative"},"color":{"field":"g","type":"nominal","scale":{"domain":["Low-risk","High-risk"],"range":["#4c86f2","#f7262e"]},"legend":null}}},
{"data":{"name":"curves"},"transform":[{"filter":"datum.p=='C2'"},{"flatten":["t","s"]},{"joinaggregate":[{"op":"max","field":"t","as":"m"}],"groupby":["g"]},{"filter":"datum.t==datum.m"}],"mark":{"type":"point","shape":"M0,-1V1M-1,0H1","size":20,"strokeWidth":1,"opacity":1},"encoding":{"x":{"field":"t","type":"quantitative","axis":null},"y":{"field":"s","type":"quantitative"},"color":{"field":"g","type":"nominal","legend":null}}},
{"data":{"name":"pv"},"transform":[{"filter":"datum.p=='C2'"}],"mark":{"type":"text","text":"p","fontStyle":"italic","align":"left","baseline":"middle","fontSize":9},"encoding":{"x":{"datum":0,"type":"quantitative","axis":null},"y":{"datum":0.2,"type":"quantitative"}}},
{"data":{"name":"pv"},"transform":[{"filter":"datum.p=='C2'"},{"calculate":"'= '+datum.v","as":"lab"}],"mark":{"type":"text","align":"left","baseline":"middle","fontSize":9,"dx":7},"encoding":{"x":{"datum":0,"type":"quantitative","axis":null},"y":{"datum":0.2,"type":"quantitative"},"text":{"field":"lab"}}}
]},
{"data":{"name":"risk"},"transform":[{"filter":"datum.p=='C2'"},{"flatten":["t","n"]}],"mark":{"type":"text","fontSize":8.5},"encoding":{"x":{"field":"t","type":"quantitative","scale":{"domain":[-2.741,6.197],"nice":false,"zero":false},"axis":{"orient":"bottom","offset":-26,"values":[0,1,2,3,4,5],"format":"d","domain":false,"ticks":false,"grid":false,"labelOverlap":false,"labelFlush":false,"labelFontSize":9.5,"labelPadding":2,"title":"Follow-up, years","titleX":96,"titlePadding":0}},"y":{"field":"g","type":"nominal","scale":{"type":"point","domain":["Low-risk","High-risk"],"range":[107.7,125],"padding":0},"axis":{"orient":"left","offset":-37.3,"labels":false,"domain":false,"grid":false,"tickSize":3,"tickColor":{"condition":{"test":"datum.value==='Low-risk'","value":"#4c86f2"},"value":"#f7262e"},"title":"At risk","titleFontSize":8.5,"titlePadding":2}},"text":{"field":"n"},"color":{"field":"g","type":"nominal","legend":null}}}
]},
{"width":162,"height":161,"resolve":{"scale":{"x":"independent","y":"independent"}},"layer":[{"layer":[
{"data":{"values":[{}]},"mark":{"type":"rect","fill":"#f2f2f2","stroke":"#8c8c8c","strokeWidth":1.2},"encoding":{"x":{"datum":-0.68,"type":"quantitative","scale":{"domain":[-2.741,6.197],"nice":false,"zero":false},"axis":null},"x2":{"datum":5.76},"y":{"datum":-0.05,"type":"quantitative","scale":{"domain":[-0.908,1.13],"nice":false,"zero":false},"axis":{"orient":"left","offset":-37.3,"values":[0,0.25,0.5,0.75,1],"format":".2f","domain":false,"grid":false,"labelOverlap":false,"tickSize":3,"labelPadding":3,"title":null}},"y2":{"datum":1.05}}},
{"data":{"values":[{}]},"mark":{"type":"rect","fill":"#f2f2f2","stroke":"#8c8c8c","strokeWidth":1.2},"encoding":{"x":{"datum":-0.68,"type":"quantitative","axis":null},"x2":{"datum":5.76},"y":{"datum":-0.11,"type":"quantitative"},"y2":{"datum":-0.578}}},
{"data":{"name":"grid"},"mark":{"type":"rule","color":"#e0e0e0","strokeWidth":0.8},"encoding":{"x":{"datum":-0.68,"type":"quantitative","axis":null},"x2":{"datum":5.76},"y":{"field":"v","type":"quantitative"}}},
{"data":{"name":"curves"},"transform":[{"filter":"datum.p=='C3'"},{"flatten":["t","s"]}],"mark":{"type":"line","interpolate":"step-after","strokeWidth":1.2},"encoding":{"x":{"field":"t","type":"quantitative","axis":null},"y":{"field":"s","type":"quantitative"},"color":{"field":"g","type":"nominal","scale":{"domain":["Low-risk","High-risk"],"range":["#4c86f2","#f7262e"]},"legend":null}}},
{"data":{"name":"curves"},"transform":[{"filter":"datum.p=='C3'"},{"flatten":["t","s"]},{"joinaggregate":[{"op":"max","field":"t","as":"m"}],"groupby":["g"]},{"filter":"datum.t==datum.m"}],"mark":{"type":"point","shape":"M0,-1V1M-1,0H1","size":20,"strokeWidth":1,"opacity":1},"encoding":{"x":{"field":"t","type":"quantitative","axis":null},"y":{"field":"s","type":"quantitative"},"color":{"field":"g","type":"nominal","legend":null}}},
{"data":{"name":"pv"},"transform":[{"filter":"datum.p=='C3'"}],"mark":{"type":"text","text":"p","fontStyle":"italic","align":"left","baseline":"middle","fontSize":9},"encoding":{"x":{"datum":0,"type":"quantitative","axis":null},"y":{"datum":0.2,"type":"quantitative"}}},
{"data":{"name":"pv"},"transform":[{"filter":"datum.p=='C3'"},{"calculate":"'= '+datum.v","as":"lab"}],"mark":{"type":"text","align":"left","baseline":"middle","fontSize":9,"dx":7},"encoding":{"x":{"datum":0,"type":"quantitative","axis":null},"y":{"datum":0.2,"type":"quantitative"},"text":{"field":"lab"}}}
]},
{"data":{"name":"risk"},"transform":[{"filter":"datum.p=='C3'"},{"flatten":["t","n"]}],"mark":{"type":"text","fontSize":8.5},"encoding":{"x":{"field":"t","type":"quantitative","scale":{"domain":[-2.741,6.197],"nice":false,"zero":false},"axis":{"orient":"bottom","offset":-26,"values":[0,1,2,3,4,5],"format":"d","domain":false,"ticks":false,"grid":false,"labelOverlap":false,"labelFlush":false,"labelFontSize":9.5,"labelPadding":2,"title":"Follow-up, years","titleX":96,"titlePadding":0}},"y":{"field":"g","type":"nominal","scale":{"type":"point","domain":["Low-risk","High-risk"],"range":[107.7,125],"padding":0},"axis":{"orient":"left","offset":-37.3,"labels":false,"domain":false,"grid":false,"tickSize":3,"tickColor":{"condition":{"test":"datum.value==='Low-risk'","value":"#4c86f2"},"value":"#f7262e"},"title":"At risk","titleFontSize":8.5,"titlePadding":2}},"text":{"field":"n"},"color":{"field":"g","type":"nominal","legend":null}}}
]},
{"width":162,"height":161,"resolve":{"scale":{"x":"independent","y":"independent"}},"layer":[{"layer":[
{"data":{"values":[{}]},"mark":{"type":"rect","fill":"#f2f2f2","stroke":"#8c8c8c","strokeWidth":1.2},"encoding":{"x":{"datum":-0.68,"type":"quantitative","scale":{"domain":[-2.741,6.197],"nice":false,"zero":false},"axis":null},"x2":{"datum":5.76},"y":{"datum":-0.05,"type":"quantitative","scale":{"domain":[-0.908,1.13],"nice":false,"zero":false},"axis":{"orient":"left","offset":-37.3,"values":[0,0.25,0.5,0.75,1],"format":".2f","domain":false,"grid":false,"labelOverlap":false,"tickSize":3,"labelPadding":3,"title":null}},"y2":{"datum":1.05}}},
{"data":{"values":[{}]},"mark":{"type":"rect","fill":"#f2f2f2","stroke":"#8c8c8c","strokeWidth":1.2},"encoding":{"x":{"datum":-0.68,"type":"quantitative","axis":null},"x2":{"datum":5.76},"y":{"datum":-0.11,"type":"quantitative"},"y2":{"datum":-0.578}}},
{"data":{"name":"grid"},"mark":{"type":"rule","color":"#e0e0e0","strokeWidth":0.8},"encoding":{"x":{"datum":-0.68,"type":"quantitative","axis":null},"x2":{"datum":5.76},"y":{"field":"v","type":"quantitative"}}},
{"data":{"name":"curves"},"transform":[{"filter":"datum.p=='C4'"},{"flatten":["t","s"]}],"mark":{"type":"line","interpolate":"step-after","strokeWidth":1.2},"encoding":{"x":{"field":"t","type":"quantitative","axis":null},"y":{"field":"s","type":"quantitative"},"color":{"field":"g","type":"nominal","scale":{"domain":["Low-risk","High-risk"],"range":["#4c86f2","#f7262e"]},"legend":null}}},
{"data":{"name":"curves"},"transform":[{"filter":"datum.p=='C4'"},{"flatten":["t","s"]},{"joinaggregate":[{"op":"max","field":"t","as":"m"}],"groupby":["g"]},{"filter":"datum.t==datum.m"}],"mark":{"type":"point","shape":"M0,-1V1M-1,0H1","size":20,"strokeWidth":1,"opacity":1},"encoding":{"x":{"field":"t","type":"quantitative","axis":null},"y":{"field":"s","type":"quantitative"},"color":{"field":"g","type":"nominal","legend":null}}},
{"data":{"name":"pv"},"transform":[{"filter":"datum.p=='C4'"}],"mark":{"type":"text","text":"p","fontStyle":"italic","align":"left","baseline":"middle","fontSize":9},"encoding":{"x":{"datum":0,"type":"quantitative","axis":null},"y":{"datum":0.2,"type":"quantitative"}}},
{"data":{"name":"pv"},"transform":[{"filter":"datum.p=='C4'"},{"calculate":"'= '+datum.v","as":"lab"}],"mark":{"type":"text","align":"left","baseline":"middle","fontSize":9,"dx":7},"encoding":{"x":{"datum":0,"type":"quantitative","axis":null},"y":{"datum":0.2,"type":"quantitative"},"text":{"field":"lab"}}}
]},
{"data":{"name":"risk"},"transform":[{"filter":"datum.p=='C4'"},{"flatten":["t","n"]}],"mark":{"type":"text","fontSize":8.5},"encoding":{"x":{"field":"t","type":"quantitative","scale":{"domain":[-2.741,6.197],"nice":false,"zero":false},"axis":{"orient":"bottom","offset":-26,"values":[0,1,2,3,4,5],"format":"d","domain":false,"ticks":false,"grid":false,"labelOverlap":false,"labelFlush":false,"labelFontSize":9.5,"labelPadding":2,"title":"Follow-up, years","titleX":96,"titlePadding":0}},"y":{"field":"g","type":"nominal","scale":{"type":"point","domain":["Low-risk","High-risk"],"range":[107.7,125],"padding":0},"axis":{"orient":"left","offset":-37.3,"labels":false,"domain":false,"grid":false,"tickSize":3,"tickColor":{"condition":{"test":"datum.value==='Low-risk'","value":"#4c86f2"},"value":"#f7262e"},"title":"At risk","titleFontSize":8.5,"titlePadding":2}},"text":{"field":"n"},"color":{"field":"g","type":"nominal","legend":null}}}
]},

{"width":123,"height":161,"data":{"values":[{"g":"I"},{"g":"II"},{"g":"III"}]},"mark":{"type":"point","opacity":0},"encoding":{"color":{"field":"g","type":"nominal","scale":{"domain":["I","II","III"],"range":["#4c86f2","#f7262e","#1fc41f"]},"legend":{"orient":"top-left","title":["AJCC overall","stage:"],"titleLineHeight":22.5,"offset":9.5,"padding":0,"symbolType":"M-1,0H1M0,-1V1","symbolSize":100,"symbolStrokeWidth":1.6,"symbolOpacity":1,"titlePadding":7.5,"rowPadding":0,"labelOffset":8}}}},
{"width":162,"height":161,"resolve":{"scale":{"x":"independent","y":"independent"}},"layer":[{"layer":[
{"data":{"values":[{}]},"mark":{"type":"rect","fill":"#f2f2f2","stroke":"#8c8c8c","strokeWidth":1.2},"encoding":{"x":{"datum":-0.68,"type":"quantitative","scale":{"domain":[-2.741,6.197],"nice":false,"zero":false},"axis":null},"x2":{"datum":5.76},"y":{"datum":-0.05,"type":"quantitative","scale":{"domain":[-0.908,1.13],"nice":false,"zero":false},"axis":{"orient":"left","offset":-37.3,"values":[0,0.25,0.5,0.75,1],"format":".2f","domain":false,"grid":false,"labelOverlap":false,"tickSize":3,"labelPadding":3,"title":null}},"y2":{"datum":1.05}}},
{"data":{"values":[{}]},"mark":{"type":"rect","fill":"#f2f2f2","stroke":"#8c8c8c","strokeWidth":1.2},"encoding":{"x":{"datum":-0.68,"type":"quantitative","axis":null},"x2":{"datum":5.76},"y":{"datum":-0.11,"type":"quantitative"},"y2":{"datum":-0.578}}},
{"data":{"name":"grid"},"mark":{"type":"rule","color":"#e0e0e0","strokeWidth":0.8},"encoding":{"x":{"datum":-0.68,"type":"quantitative","axis":null},"x2":{"datum":5.76},"y":{"field":"v","type":"quantitative"}}},
{"data":{"name":"curves"},"transform":[{"filter":"datum.p=='D1'"},{"flatten":["t","s"]}],"mark":{"type":"line","interpolate":"step-after","strokeWidth":1.2},"encoding":{"x":{"field":"t","type":"quantitative","axis":null},"y":{"field":"s","type":"quantitative"},"color":{"field":"g","type":"nominal","scale":{"domain":["I","II","III"],"range":["#4c86f2","#f7262e","#1fc41f"]},"legend":null}}},
{"data":{"name":"curves"},"transform":[{"filter":"datum.p=='D1'"},{"flatten":["t","s"]},{"joinaggregate":[{"op":"max","field":"t","as":"m"}],"groupby":["g"]},{"filter":"datum.t==datum.m"}],"mark":{"type":"point","shape":"M0,-1V1M-1,0H1","size":20,"strokeWidth":1,"opacity":1},"encoding":{"x":{"field":"t","type":"quantitative","axis":null},"y":{"field":"s","type":"quantitative"},"color":{"field":"g","type":"nominal","legend":null}}},
{"data":{"name":"pv"},"transform":[{"filter":"datum.p=='D1'"}],"mark":{"type":"text","text":"p","fontStyle":"italic","align":"left","baseline":"middle","fontSize":9},"encoding":{"x":{"datum":0,"type":"quantitative","axis":null},"y":{"datum":0.2,"type":"quantitative"}}},
{"data":{"name":"pv"},"transform":[{"filter":"datum.p=='D1'"},{"calculate":"'= '+datum.v","as":"lab"}],"mark":{"type":"text","align":"left","baseline":"middle","fontSize":9,"dx":7},"encoding":{"x":{"datum":0,"type":"quantitative","axis":null},"y":{"datum":0.2,"type":"quantitative"},"text":{"field":"lab"}}}
]},
{"data":{"name":"risk"},"transform":[{"filter":"datum.p=='D1'"},{"flatten":["t","n"]}],"mark":{"type":"text","fontSize":8.5},"encoding":{"x":{"field":"t","type":"quantitative","scale":{"domain":[-2.741,6.197],"nice":false,"zero":false},"axis":{"orient":"bottom","offset":-26,"values":[0,1,2,3,4,5],"format":"d","domain":false,"ticks":false,"grid":false,"labelOverlap":false,"labelFlush":false,"labelFontSize":9.5,"labelPadding":2,"title":"Follow-up, years","titleX":96,"titlePadding":0}},"y":{"field":"g","type":"nominal","scale":{"type":"point","domain":["I","II","III"],"range":[105.3,127],"padding":0},"axis":{"orient":"left","offset":-37.3,"labels":false,"domain":false,"grid":false,"tickSize":3,"tickColor":{"condition":[{"test":"datum.value==='I'","value":"#4c86f2"},{"test":"datum.value==='II'","value":"#f7262e"}],"value":"#1fc41f"},"title":"At risk","titleFontSize":8.5,"titlePadding":2}},"text":{"field":"n"},"color":{"field":"g","type":"nominal","legend":null}}}
]},
{"width":162,"height":161,"resolve":{"scale":{"x":"independent","y":"independent"}},"layer":[{"layer":[
{"data":{"values":[{}]},"mark":{"type":"rect","fill":"#f2f2f2","stroke":"#8c8c8c","strokeWidth":1.2},"encoding":{"x":{"datum":-0.68,"type":"quantitative","scale":{"domain":[-2.741,6.197],"nice":false,"zero":false},"axis":null},"x2":{"datum":5.76},"y":{"datum":-0.05,"type":"quantitative","scale":{"domain":[-0.908,1.13],"nice":false,"zero":false},"axis":{"orient":"left","offset":-37.3,"values":[0,0.25,0.5,0.75,1],"format":".2f","domain":false,"grid":false,"labelOverlap":false,"tickSize":3,"labelPadding":3,"title":null}},"y2":{"datum":1.05}}},
{"data":{"values":[{}]},"mark":{"type":"rect","fill":"#f2f2f2","stroke":"#8c8c8c","strokeWidth":1.2},"encoding":{"x":{"datum":-0.68,"type":"quantitative","axis":null},"x2":{"datum":5.76},"y":{"datum":-0.11,"type":"quantitative"},"y2":{"datum":-0.578}}},
{"data":{"name":"grid"},"mark":{"type":"rule","color":"#e0e0e0","strokeWidth":0.8},"encoding":{"x":{"datum":-0.68,"type":"quantitative","axis":null},"x2":{"datum":5.76},"y":{"field":"v","type":"quantitative"}}},
{"data":{"name":"curves"},"transform":[{"filter":"datum.p=='D2'"},{"flatten":["t","s"]}],"mark":{"type":"line","interpolate":"step-after","strokeWidth":1.2},"encoding":{"x":{"field":"t","type":"quantitative","axis":null},"y":{"field":"s","type":"quantitative"},"color":{"field":"g","type":"nominal","scale":{"domain":["I","II","III"],"range":["#4c86f2","#f7262e","#1fc41f"]},"legend":null}}},
{"data":{"name":"curves"},"transform":[{"filter":"datum.p=='D2'"},{"flatten":["t","s"]},{"joinaggregate":[{"op":"max","field":"t","as":"m"}],"groupby":["g"]},{"filter":"datum.t==datum.m"}],"mark":{"type":"point","shape":"M0,-1V1M-1,0H1","size":20,"strokeWidth":1,"opacity":1},"encoding":{"x":{"field":"t","type":"quantitative","axis":null},"y":{"field":"s","type":"quantitative"},"color":{"field":"g","type":"nominal","legend":null}}},
{"data":{"name":"pv"},"transform":[{"filter":"datum.p=='D2'"}],"mark":{"type":"text","text":"p","fontStyle":"italic","align":"left","baseline":"middle","fontSize":9},"encoding":{"x":{"datum":0,"type":"quantitative","axis":null},"y":{"datum":0.2,"type":"quantitative"}}},
{"data":{"name":"pv"},"transform":[{"filter":"datum.p=='D2'"},{"calculate":"'= '+datum.v","as":"lab"}],"mark":{"type":"text","align":"left","baseline":"middle","fontSize":9,"dx":7},"encoding":{"x":{"datum":0,"type":"quantitative","axis":null},"y":{"datum":0.2,"type":"quantitative"},"text":{"field":"lab"}}}
]},
{"data":{"name":"risk"},"transform":[{"filter":"datum.p=='D2'"},{"flatten":["t","n"]}],"mark":{"type":"text","fontSize":8.5},"encoding":{"x":{"field":"t","type":"quantitative","scale":{"domain":[-2.741,6.197],"nice":false,"zero":false},"axis":{"orient":"bottom","offset":-26,"values":[0,1,2,3,4,5],"format":"d","domain":false,"ticks":false,"grid":false,"labelOverlap":false,"labelFlush":false,"labelFontSize":9.5,"labelPadding":2,"title":"Follow-up, years","titleX":96,"titlePadding":0}},"y":{"field":"g","type":"nominal","scale":{"type":"point","domain":["I","II","III"],"range":[105.3,127],"padding":0},"axis":{"orient":"left","offset":-37.3,"labels":false,"domain":false,"grid":false,"tickSize":3,"tickColor":{"condition":[{"test":"datum.value==='I'","value":"#4c86f2"},{"test":"datum.value==='II'","value":"#f7262e"}],"value":"#1fc41f"},"title":"At risk","titleFontSize":8.5,"titlePadding":2}},"text":{"field":"n"},"color":{"field":"g","type":"nominal","legend":null}}}
]},
{"width":162,"height":161,"resolve":{"scale":{"x":"independent","y":"independent"}},"layer":[{"layer":[
{"data":{"values":[{}]},"mark":{"type":"rect","fill":"#f2f2f2","stroke":"#8c8c8c","strokeWidth":1.2},"encoding":{"x":{"datum":-0.68,"type":"quantitative","scale":{"domain":[-2.741,6.197],"nice":false,"zero":false},"axis":null},"x2":{"datum":5.76},"y":{"datum":-0.05,"type":"quantitative","scale":{"domain":[-0.908,1.13],"nice":false,"zero":false},"axis":{"orient":"left","offset":-37.3,"values":[0,0.25,0.5,0.75,1],"format":".2f","domain":false,"grid":false,"labelOverlap":false,"tickSize":3,"labelPadding":3,"title":null}},"y2":{"datum":1.05}}},
{"data":{"values":[{}]},"mark":{"type":"rect","fill":"#f2f2f2","stroke":"#8c8c8c","strokeWidth":1.2},"encoding":{"x":{"datum":-0.68,"type":"quantitative","axis":null},"x2":{"datum":5.76},"y":{"datum":-0.11,"type":"quantitative"},"y2":{"datum":-0.578}}},
{"data":{"name":"grid"},"mark":{"type":"rule","color":"#e0e0e0","strokeWidth":0.8},"encoding":{"x":{"datum":-0.68,"type":"quantitative","axis":null},"x2":{"datum":5.76},"y":{"field":"v","type":"quantitative"}}},
{"data":{"name":"curves"},"transform":[{"filter":"datum.p=='D3'"},{"flatten":["t","s"]}],"mark":{"type":"line","interpolate":"step-after","strokeWidth":1.2},"encoding":{"x":{"field":"t","type":"quantitative","axis":null},"y":{"field":"s","type":"quantitative"},"color":{"field":"g","type":"nominal","scale":{"domain":["I","II","III"],"range":["#4c86f2","#f7262e","#1fc41f"]},"legend":null}}},
{"data":{"name":"curves"},"transform":[{"filter":"datum.p=='D3'"},{"flatten":["t","s"]},{"joinaggregate":[{"op":"max","field":"t","as":"m"}],"groupby":["g"]},{"filter":"datum.t==datum.m"}],"mark":{"type":"point","shape":"M0,-1V1M-1,0H1","size":20,"strokeWidth":1,"opacity":1},"encoding":{"x":{"field":"t","type":"quantitative","axis":null},"y":{"field":"s","type":"quantitative"},"color":{"field":"g","type":"nominal","legend":null}}},
{"data":{"name":"pv"},"transform":[{"filter":"datum.p=='D3'"}],"mark":{"type":"text","text":"p","fontStyle":"italic","align":"left","baseline":"middle","fontSize":9},"encoding":{"x":{"datum":0,"type":"quantitative","axis":null},"y":{"datum":0.2,"type":"quantitative"}}},
{"data":{"name":"pv"},"transform":[{"filter":"datum.p=='D3'"},{"calculate":"'= '+datum.v","as":"lab"}],"mark":{"type":"text","align":"left","baseline":"middle","fontSize":9,"dx":7},"encoding":{"x":{"datum":0,"type":"quantitative","axis":null},"y":{"datum":0.2,"type":"quantitative"},"text":{"field":"lab"}}}
]},
{"data":{"name":"risk"},"transform":[{"filter":"datum.p=='D3'"},{"flatten":["t","n"]}],"mark":{"type":"text","fontSize":8.5},"encoding":{"x":{"field":"t","type":"quantitative","scale":{"domain":[-2.741,6.197],"nice":false,"zero":false},"axis":{"orient":"bottom","offset":-26,"values":[0,1,2,3,4,5],"format":"d","domain":false,"ticks":false,"grid":false,"labelOverlap":false,"labelFlush":false,"labelFontSize":9.5,"labelPadding":2,"title":"Follow-up, years","titleX":96,"titlePadding":0}},"y":{"field":"g","type":"nominal","scale":{"type":"point","domain":["I","II","III"],"range":[105.3,127],"padding":0},"axis":{"orient":"left","offset":-37.3,"labels":false,"domain":false,"grid":false,"tickSize":3,"tickColor":{"condition":[{"test":"datum.value==='I'","value":"#4c86f2"},{"test":"datum.value==='II'","value":"#f7262e"}],"value":"#1fc41f"},"title":"At risk","titleFontSize":8.5,"titlePadding":2}},"text":{"field":"n"},"color":{"field":"g","type":"nominal","legend":null}}}
]},
{"width":162,"height":161,"resolve":{"scale":{"x":"independent","y":"independent"}},"layer":[{"layer":[
{"data":{"values":[{}]},"mark":{"type":"rect","fill":"#f2f2f2","stroke":"#8c8c8c","strokeWidth":1.2},"encoding":{"x":{"datum":-0.68,"type":"quantitative","scale":{"domain":[-2.741,6.197],"nice":false,"zero":false},"axis":null},"x2":{"datum":5.76},"y":{"datum":-0.05,"type":"quantitative","scale":{"domain":[-0.908,1.13],"nice":false,"zero":false},"axis":{"orient":"left","offset":-37.3,"values":[0,0.25,0.5,0.75,1],"format":".2f","domain":false,"grid":false,"labelOverlap":false,"tickSize":3,"labelPadding":3,"title":null}},"y2":{"datum":1.05}}},
{"data":{"values":[{}]},"mark":{"type":"rect","fill":"#f2f2f2","stroke":"#8c8c8c","strokeWidth":1.2},"encoding":{"x":{"datum":-0.68,"type":"quantitative","axis":null},"x2":{"datum":5.76},"y":{"datum":-0.11,"type":"quantitative"},"y2":{"datum":-0.578}}},
{"data":{"name":"grid"},"mark":{"type":"rule","color":"#e0e0e0","strokeWidth":0.8},"encoding":{"x":{"datum":-0.68,"type":"quantitative","axis":null},"x2":{"datum":5.76},"y":{"field":"v","type":"quantitative"}}},
{"data":{"name":"curves"},"transform":[{"filter":"datum.p=='D4'"},{"flatten":["t","s"]}],"mark":{"type":"line","interpolate":"step-after","strokeWidth":1.2},"encoding":{"x":{"field":"t","type":"quantitative","axis":null},"y":{"field":"s","type":"quantitative"},"color":{"field":"g","type":"nominal","scale":{"domain":["I","II","III"],"range":["#4c86f2","#f7262e","#1fc41f"]},"legend":null}}},
{"data":{"name":"curves"},"transform":[{"filter":"datum.p=='D4'"},{"flatten":["t","s"]},{"joinaggregate":[{"op":"max","field":"t","as":"m"}],"groupby":["g"]},{"filter":"datum.t==datum.m"}],"mark":{"type":"point","shape":"M0,-1V1M-1,0H1","size":20,"strokeWidth":1,"opacity":1},"encoding":{"x":{"field":"t","type":"quantitative","axis":null},"y":{"field":"s","type":"quantitative"},"color":{"field":"g","type":"nominal","legend":null}}},
{"data":{"name":"pv"},"transform":[{"filter":"datum.p=='D4'"}],"mark":{"type":"text","text":"p","fontStyle":"italic","align":"left","baseline":"middle","fontSize":9},"encoding":{"x":{"datum":0,"type":"quantitative","axis":null},"y":{"datum":0.2,"type":"quantitative"}}},
{"data":{"name":"pv"},"transform":[{"filter":"datum.p=='D4'"},{"calculate":"'= '+datum.v","as":"lab"}],"mark":{"type":"text","align":"left","baseline":"middle","fontSize":9,"dx":7},"encoding":{"x":{"datum":0,"type":"quantitative","axis":null},"y":{"datum":0.2,"type":"quantitative"},"text":{"field":"lab"}}}
]},
{"data":{"name":"risk"},"transform":[{"filter":"datum.p=='D4'"},{"flatten":["t","n"]}],"mark":{"type":"text","fontSize":8.5},"encoding":{"x":{"field":"t","type":"quantitative","scale":{"domain":[-2.741,6.197],"nice":false,"zero":false},"axis":{"orient":"bottom","offset":-26,"values":[0,1,2,3,4,5],"format":"d","domain":false,"ticks":false,"grid":false,"labelOverlap":false,"labelFlush":false,"labelFontSize":9.5,"labelPadding":2,"title":"Follow-up, years","titleX":96,"titlePadding":0}},"y":{"field":"g","type":"nominal","scale":{"type":"point","domain":["I","II","III"],"range":[105.3,127],"padding":0},"axis":{"orient":"left","offset":-37.3,"labels":false,"domain":false,"grid":false,"tickSize":3,"tickColor":{"condition":[{"test":"datum.value==='I'","value":"#4c86f2"},{"test":"datum.value==='II'","value":"#f7262e"}],"value":"#1fc41f"},"title":"At risk","titleFontSize":8.5,"titlePadding":2}},"text":{"field":"n"},"color":{"field":"g","type":"nominal","legend":null}}}
]}
],
"config":{
"view":{"stroke":"#a6a6a6","strokeWidth":2},
"axis":{"labelFont":"Liberation Sans","labelFontSize":9,"labelColor":"#4d4d4d","titleFont":"Liberation Sans","titleFontSize":9.5,"titleFontWeight":"normal","titleColor":"#1a1a1a","tickColor":"#8c8c8c","labelOverlap":false},
"text":{"font":"Liberation Sans","color":"#1a1a1a"},
"legend":{"titleFont":"Noto Sans","titleFontSize":14,"titleFontWeight":"bold","titleColor":"#000","labelFont":"Noto Sans","labelFontSize":13,"labelColor":"#000"}
}
}
